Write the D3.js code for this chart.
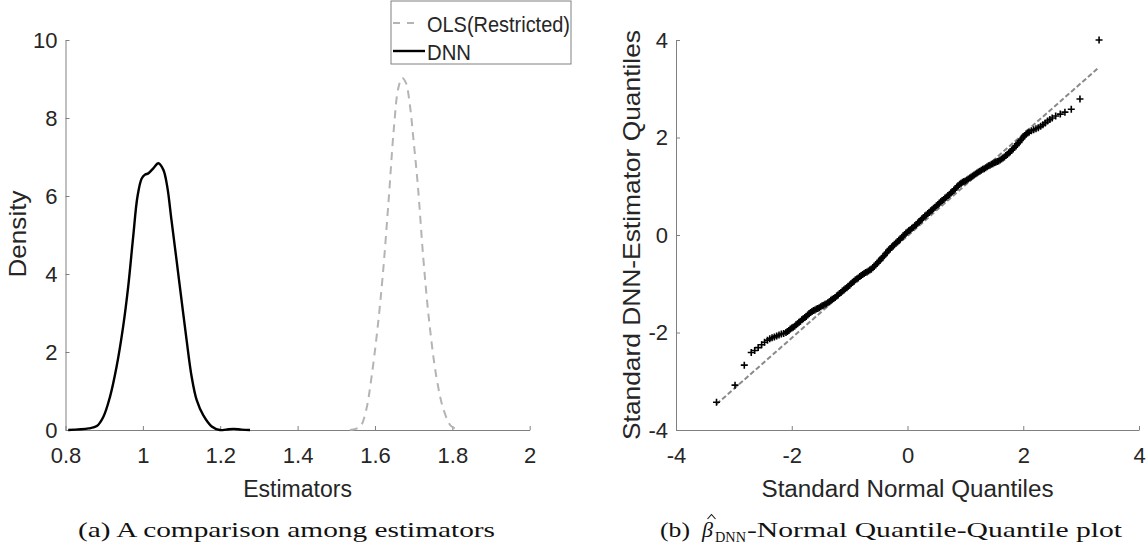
<!DOCTYPE html>
<html>
<head>
<meta charset="utf-8">
<script src="https://cdn.jsdelivr.net/npm/d3@7"></script>
<style>
  html, body { margin: 0; padding: 0; background: #ffffff; }
  svg { display: block; }
  .tick text { font-family: "Liberation Sans", Arial, sans-serif; font-size: 22px; fill: #262626; }
</style>
</head>
<body>
<svg id="chart" width="1148" height="546"></svg>
<script>
// ---------- Data ----------
// Panel (a): kernel density estimates
const dnnX = [0.807, 0.860, 0.881, 0.898, 0.915, 0.932, 0.949, 0.962, 0.975, 0.986, 0.997, 1.006, 1.014, 1.027, 1.040, 1.053, 1.063, 1.074, 1.087, 1.100, 1.113, 1.126, 1.139, 1.156, 1.178, 1.199, 1.215, 1.234, 1.255, 1.277];
const dnnY = [0.00, 0.04, 0.10, 0.34, 0.85, 1.62, 2.65, 3.67, 4.96, 5.98, 6.45, 6.55, 6.58, 6.71, 6.84, 6.67, 6.24, 5.38, 4.36, 3.33, 2.31, 1.37, 0.77, 0.38, 0.09, 0.00, 0.01, 0.03, 0.01, 0.00];
const olsX = [1.535, 1.550, 1.563, 1.577, 1.591, 1.606, 1.620, 1.635, 1.649, 1.660, 1.670, 1.680, 1.690, 1.700, 1.711, 1.725, 1.740, 1.759, 1.778, 1.797, 1.818];
const olsY = [0.00, 0.03, 0.10, 0.50, 1.35, 2.55, 3.95, 5.85, 7.75, 8.75, 9.03, 8.90, 8.35, 7.40, 6.25, 4.40, 2.80, 1.35, 0.50, 0.10, 0.00];
const xTicksA = [0.8, 1, 1.2, 1.4, 1.6, 1.8, 2];
const xTickLabelsA = ["0.8", "1", "1.2", "1.4", "1.6", "1.8", "2"];
const yTicksA = [0, 2, 4, 6, 8, 10];
const yTickLabelsA = ["0", "2", "4", "6", "8", "10"];
const legendLabels = ["OLS(Restricted)", "DNN"];

// Panel (b): normal Q-Q plot (theoretical quantile, sample quantile)
const qqTheoretical = [
  -3.30, -2.98, -2.82, -2.70, -2.64, -2.58, -2.52, -2.47, -2.42, -2.38, -2.34, -2.30, -2.26, -2.22, -2.18, -2.14,
  -2.100, -2.075, -2.050, -2.025, -2.000, -1.975, -1.950, -1.925, -1.900, -1.875, -1.850, -1.825, -1.800, -1.775, -1.750, -1.725,
  -1.700, -1.675, -1.650, -1.625, -1.600, -1.575, -1.550, -1.525, -1.500, -1.475, -1.450, -1.425, -1.400, -1.375, -1.350, -1.325,
  -1.300, -1.275, -1.250, -1.225, -1.200, -1.175, -1.150, -1.125, -1.100, -1.075, -1.050, -1.025, -1.000, -0.975, -0.950, -0.925,
  -0.900, -0.875, -0.850, -0.825, -0.800, -0.775, -0.750, -0.725, -0.700, -0.675, -0.650, -0.625, -0.600, -0.575, -0.550, -0.525,
  -0.500, -0.475, -0.450, -0.425, -0.400, -0.375, -0.350, -0.325, -0.300, -0.275, -0.250, -0.225, -0.200, -0.175, -0.150, -0.125,
  -0.100, -0.075, -0.050, -0.025, 0.000, 0.025, 0.050, 0.075, 0.100, 0.125, 0.150, 0.175, 0.200, 0.225, 0.250, 0.275,
  0.300, 0.325, 0.350, 0.375, 0.400, 0.425, 0.450, 0.475, 0.500, 0.525, 0.550, 0.575, 0.600, 0.625, 0.650, 0.675,
  0.700, 0.725, 0.750, 0.775, 0.800, 0.825, 0.850, 0.875, 0.900, 0.925, 0.950, 0.975, 1.000, 1.025, 1.050, 1.075,
  1.100, 1.125, 1.150, 1.175, 1.200, 1.225, 1.250, 1.275, 1.300, 1.325, 1.350, 1.375, 1.400, 1.425, 1.450, 1.475,
  1.500, 1.525, 1.550, 1.575, 1.600, 1.625, 1.650, 1.675, 1.700, 1.725, 1.750, 1.775, 1.800, 1.825, 1.850, 1.875,
  1.900, 1.925, 1.950, 1.975, 2.000, 2.025, 2.050, 2.075, 2.100,
  2.14, 2.18, 2.22, 2.26, 2.30, 2.34, 2.38, 2.42, 2.46, 2.50, 2.56, 2.64, 2.72, 2.83, 2.98, 3.31
];
const qqSample = [
  -3.43, -3.08, -2.67, -2.41, -2.37, -2.31, -2.25, -2.20, -2.16, -2.13, -2.11, -2.09, -2.07, -2.05, -2.03, -2.02,
  -2.00, -1.98, -1.96, -1.93, -1.91, -1.89, -1.87, -1.84, -1.82, -1.79, -1.77, -1.74, -1.72, -1.69, -1.67, -1.64,
  -1.61, -1.59, -1.57, -1.55, -1.54, -1.52, -1.51, -1.49, -1.47, -1.45, -1.44, -1.42, -1.41, -1.39, -1.37, -1.34,
  -1.32, -1.30, -1.28, -1.25, -1.23, -1.20, -1.18, -1.15, -1.13, -1.10, -1.08, -1.05, -1.03, -1.00, -0.97, -0.95,
  -0.92, -0.90, -0.88, -0.85, -0.83, -0.81, -0.79, -0.77, -0.76, -0.74, -0.72, -0.70, -0.67, -0.64, -0.61, -0.58,
  -0.55, -0.52, -0.48, -0.45, -0.42, -0.38, -0.35, -0.31, -0.28, -0.25, -0.22, -0.19, -0.17, -0.14, -0.11, -0.08,
  -0.05, -0.02, 0.01, 0.04, 0.06, 0.09, 0.11, 0.14, 0.16, 0.19, 0.21, 0.24, 0.27, 0.30, 0.33, 0.36,
  0.39, 0.41, 0.44, 0.46, 0.49, 0.52, 0.55, 0.57, 0.60, 0.62, 0.65, 0.68, 0.71, 0.73, 0.76, 0.78,
  0.81, 0.83, 0.86, 0.89, 0.92, 0.95, 0.98, 1.01, 1.04, 1.06, 1.08, 1.10, 1.11, 1.13, 1.15, 1.17,
  1.19, 1.21, 1.23, 1.25, 1.27, 1.29, 1.31, 1.33, 1.35, 1.36, 1.38, 1.40, 1.42, 1.43, 1.45, 1.46,
  1.48, 1.49, 1.51, 1.52, 1.54, 1.56, 1.58, 1.60, 1.63, 1.65, 1.68, 1.71, 1.74, 1.77, 1.80, 1.83,
  1.87, 1.90, 1.94, 1.97, 2.01, 2.04, 2.07, 2.09, 2.11,
  2.14, 2.16, 2.18, 2.20, 2.23, 2.26, 2.30, 2.34, 2.37, 2.40, 2.44, 2.48, 2.52, 2.58, 2.79, 4.00
];
const refLineX = [-3.30, 3.29];
const refLineY = [-3.47, 3.42];
const ticksB = [-4, -2, 0, 2, 4];
const tickLabelsB = ["-4", "-2", "0", "2", "4"];

// ---------- Drawing ----------
const svg = d3.select("#chart");
svg.append("rect").attr("width", 1148).attr("height", 546).attr("fill", "#ffffff");

const axisColor = "#808080";
const sansFont = '"Liberation Sans", Arial, sans-serif';
const serifFont = '"Liberation Serif", "Times New Roman", serif';

function styleAxis(g) {
  g.select(".domain").attr("stroke", axisColor).attr("stroke-width", 1);
  g.selectAll(".tick line").attr("stroke", axisColor).attr("stroke-width", 1);
}

// ===== Panel (a) =====
const xA = d3.scaleLinear().domain([0.8, 2]).range([65.5, 529.7]);
const yA = d3.scaleLinear().domain([0, 10]).range([430, 40]);

svg.append("g")
  .attr("transform", `translate(0,${yA(0)})`)
  .call(d3.axisBottom(xA).tickValues(xTicksA).tickFormat((d, i) => xTickLabelsA[i])
    .tickSizeInner(-4).tickSizeOuter(0).tickPadding(17))
  .call(styleAxis);

svg.append("g")
  .attr("transform", `translate(${xA(0.8)},0)`)
  .call(d3.axisLeft(yA).tickValues(yTicksA).tickFormat((d, i) => yTickLabelsA[i])
    .tickSizeInner(-4).tickSizeOuter(0).tickPadding(8))
  .call(styleAxis);

const dnnData = dnnX.map((x, i) => [x, dnnY[i]]);
const olsData = olsX.map((x, i) => [x, olsY[i]]);
const lineA = d3.line().x(d => xA(d[0])).y(d => yA(d[1])).curve(d3.curveCatmullRom.alpha(0.5));

svg.append("path").datum(olsData).attr("d", lineA)
  .attr("fill", "none").attr("stroke", "#b4b4b4").attr("stroke-width", 2)
  .attr("stroke-dasharray", "8,6");
svg.append("path").datum(dnnData).attr("d", lineA)
  .attr("fill", "none").attr("stroke", "#000000").attr("stroke-width", 2.4)
  .attr("stroke-linejoin", "round");

// Axis labels
svg.append("text").attr("x", 297.6).attr("y", 497)
  .attr("text-anchor", "middle").attr("font-family", sansFont).attr("font-size", 23)
  .attr("fill", "#262626").text("Estimators");
svg.append("text")
  .attr("transform", `translate(26,234) rotate(-90)`)
  .attr("text-anchor", "middle").attr("font-family", sansFont).attr("font-size", 24)
  .attr("textLength", 87).attr("lengthAdjust", "spacingAndGlyphs")
  .attr("fill", "#262626").text("Density");

// Legend
const leg = svg.append("g");
leg.append("rect").attr("x", 391).attr("y", 1).attr("width", 180).attr("height", 63)
  .attr("fill", "#ffffff").attr("stroke", axisColor).attr("stroke-width", 1);
leg.append("line").attr("x1", 393).attr("x2", 415).attr("y1", 23).attr("y2", 23)
  .attr("stroke", "#b4b4b4").attr("stroke-width", 2).attr("stroke-dasharray", "7,7");
leg.append("line").attr("x1", 393).attr("x2", 425).attr("y1", 51).attr("y2", 51)
  .attr("stroke", "#000000").attr("stroke-width", 2.4);
leg.append("text").attr("x", 427).attr("y", 32).attr("font-family", sansFont).attr("font-size", 22)
  .attr("fill", "#262626").attr("textLength", 143).attr("lengthAdjust", "spacingAndGlyphs").text(legendLabels[0]);
leg.append("text").attr("x", 427).attr("y", 60).attr("font-family", sansFont).attr("font-size", 22)
  .attr("fill", "#262626").attr("textLength", 44).attr("lengthAdjust", "spacingAndGlyphs").text(legendLabels[1]);

// Caption (a)
svg.append("text").attr("x", 78).attr("y", 537)
  .attr("font-family", serifFont).attr("font-size", 22).attr("fill", "#111")
  .attr("textLength", 417).attr("lengthAdjust", "spacingAndGlyphs")
  .text("(a) A comparison among estimators");

// ===== Panel (b) =====
const xB = d3.scaleLinear().domain([-4, 4]).range([676, 1139]);
const yB = d3.scaleLinear().domain([-4, 4]).range([430, 40]);

svg.append("g")
  .attr("transform", `translate(0,${yB(-4)})`)
  .call(d3.axisBottom(xB).tickValues(ticksB).tickFormat((d, i) => tickLabelsB[i])
    .tickSizeInner(-4).tickSizeOuter(0).tickPadding(17))
  .call(styleAxis);

svg.append("g")
  .attr("transform", `translate(${xB(-4)},0)`)
  .call(d3.axisLeft(yB).tickValues(ticksB).tickFormat((d, i) => tickLabelsB[i])
    .tickSizeInner(-4).tickSizeOuter(0).tickPadding(8))
  .call(styleAxis);

// reference line
svg.append("line")
  .attr("x1", xB(refLineX[0])).attr("y1", yB(refLineY[0]))
  .attr("x2", xB(refLineX[1])).attr("y2", yB(refLineY[1]))
  .attr("stroke", "#8a8a8a").attr("stroke-width", 2).attr("stroke-dasharray", "5,2.5");

// '+' markers
const qqData = qqTheoretical.map((x, i) => [x, qqSample[i]]);
svg.append("g").selectAll("path.pt").data(qqData).join("path")
  .attr("class", "pt")
  .attr("transform", d => `translate(${xB(d[0])},${yB(d[1])})`)
  .attr("d", "M-3.5,0H3.5M0,-3.5V3.5")
  .attr("fill", "none").attr("stroke", "#000").attr("stroke-width", 1.6);

// Axis labels
svg.append("text").attr("x", 907.5).attr("y", 497)
  .attr("text-anchor", "middle").attr("font-family", sansFont).attr("font-size", 23)
  .attr("textLength", 292).attr("lengthAdjust", "spacingAndGlyphs")
  .attr("fill", "#262626").text("Standard Normal Quantiles");
svg.append("text")
  .attr("transform", `translate(640,235) rotate(-90)`)
  .attr("text-anchor", "middle").attr("font-family", sansFont).attr("font-size", 24)
  .attr("textLength", 410).attr("lengthAdjust", "spacingAndGlyphs")
  .attr("fill", "#262626").text("Standard DNN-Estimator Quantiles");

// Caption (b)
const capB = svg.append("g").attr("font-family", serifFont).attr("fill", "#111");
capB.append("text").attr("x", 660).attr("y", 537).attr("font-size", 22)
  .attr("textLength", 30).attr("lengthAdjust", "spacingAndGlyphs").text("(b)");
capB.append("text").attr("x", 702).attr("y", 537).attr("font-size", 22)
  .attr("font-style", "italic").text("\u03B2");
// circumflex accent over beta
capB.append("path").attr("d", "M707.5,519 L711.5,514.5 L715.5,519")
  .attr("fill", "none").attr("stroke", "#111").attr("stroke-width", 1.1);
capB.append("text").attr("x", 715).attr("y", 542).attr("font-size", 14)
  .attr("textLength", 31).attr("lengthAdjust", "spacingAndGlyphs").text("DNN");
capB.append("text").attr("x", 747).attr("y", 537).attr("font-size", 22)
  .attr("textLength", 375).attr("lengthAdjust", "spacingAndGlyphs")
  .text("-Normal Quantile-Quantile plot");
</script>
</body>
</html>
